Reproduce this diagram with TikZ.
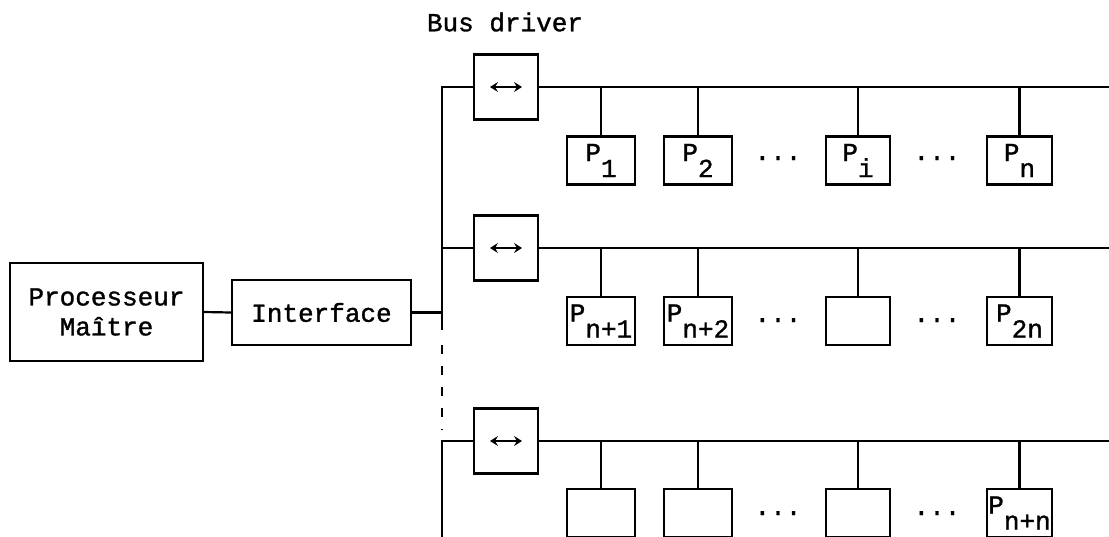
\documentclass[tikz,border=0pt]{standalone}
\usepackage{fontspec}
\setmainfont{Liberation Mono}[FakeBold=1.2]
\usetikzlibrary{arrows.meta}
\newcommand\Psub[1]{P\raisebox{-16pt}{#1}}
\begin{document}
\begin{tikzpicture}[x=1pt,y=-1pt, line width=2.2pt,
  every node/.style={font=\fontsize{26}{30}\selectfont, inner sep=0pt},
  blk/.style={draw, rectangle},
  drv/.style={draw, rectangle, minimum width=64pt, minimum height=65pt},
  proc/.style={draw, rectangle, minimum height=48pt, minimum width=68pt},
  arr/.style={{Stealth[length=8pt,width=10pt,inset=3pt]}-{Stealth[length=8pt,width=10pt,inset=3pt]}, line width=2.2pt}]
\useasboundingbox (0,0) rectangle (1109,536);
\clip (0,0) rectangle (1109,536);

% labels and main blocks
\node (bd) at (505,22) {Bus driver};
\node[blk, minimum width=193pt, minimum height=98pt, align=center] (pm) at (106.5,312) {Processeur\\Maître};
\node[blk, minimum width=179pt, minimum height=65pt] (if) at (321.5,312.5) {Interface};

% bus drivers
\node[drv] (d1) at (506,87) {};
\node[drv] (d2) at (506,248) {};
\node[drv] (d3) at (506,441) {};
\foreach \d in {d1,d2,d3}{
  \draw[arr] ([xshift=-16pt]\d.center) -- ([xshift=16pt]\d.center);
}

% processors row 1
\node[proc] (p11) at (601,160.5) {\Psub{1}};
\node[proc] (p12) at (698,160.5) {\Psub{2}};
\node[proc, minimum width=64pt] (p13) at (858,160.5) {\Psub{i}};
\node[proc, minimum width=65pt] (p14) at (1019.5,160.5) {\Psub{n}};
\node[anchor=base] (o11) at (778,160) {...};
\node[anchor=base] (o12) at (937,160) {...};

% processors row 2
\node[proc] (p21) at (601,321) {\Psub{n+1}};
\node[proc] (p22) at (698,321) {\Psub{n+2}};
\node[proc, minimum width=64pt] (p23) at (858,321) {};
\node[proc, minimum width=65pt] (p24) at (1019.5,321) {\Psub{2n}};
\node[anchor=base] (o21) at (778,322) {...};
\node[anchor=base] (o22) at (937,322) {...};

% processors row 3
\node[proc] (p31) at (601,513) {};
\node[proc] (p32) at (698,513) {};
\node[proc, minimum width=64pt] (p33) at (858,513) {};
\node[proc, minimum width=65pt] (p34) at (1019.5,513) {\Psub{n+n}};
\node[anchor=base] (o31) at (778,515) {...};
\node[anchor=base] (o32) at (937,515) {...};

% bus ends
\coordinate (e1) at (1109,87);
\coordinate (e2) at (1109,248);
\coordinate (e3) at (1109,441);
\draw (d1.east) -- (e1);
\draw (d2.east) -- (e2);
\draw (d3.east) -- (e3);
\foreach \r/\e in {1/e1,2/e2,3/e3}{
  \foreach \c in {1,2,3,4}{
    \draw (p\r\c.north) -- (p\r\c.north |- \e);
  }
}

% trunk
\coordinate (j1) at (442,87);
\coordinate (j2) at (442,248);
\coordinate (j3) at (442,441);
\coordinate (ti) at (442,312.5);
\coordinate (ts) at (442,330);
\coordinate (ds) at (442,345);
\coordinate (de) at (442,430);
\coordinate (jb) at (442,540);
\draw (d1.west) -- (j1) -- (ts);
\draw (d2.west) -- (j2);
\draw (d3.west) -- (j3) -- (jb);
\draw[dash pattern=on 9pt off 12pt] (ds) -- (de);
\draw (pm.east) -- (if.west);
\draw (if.east) -- (ti);
\end{tikzpicture}
\end{document}
